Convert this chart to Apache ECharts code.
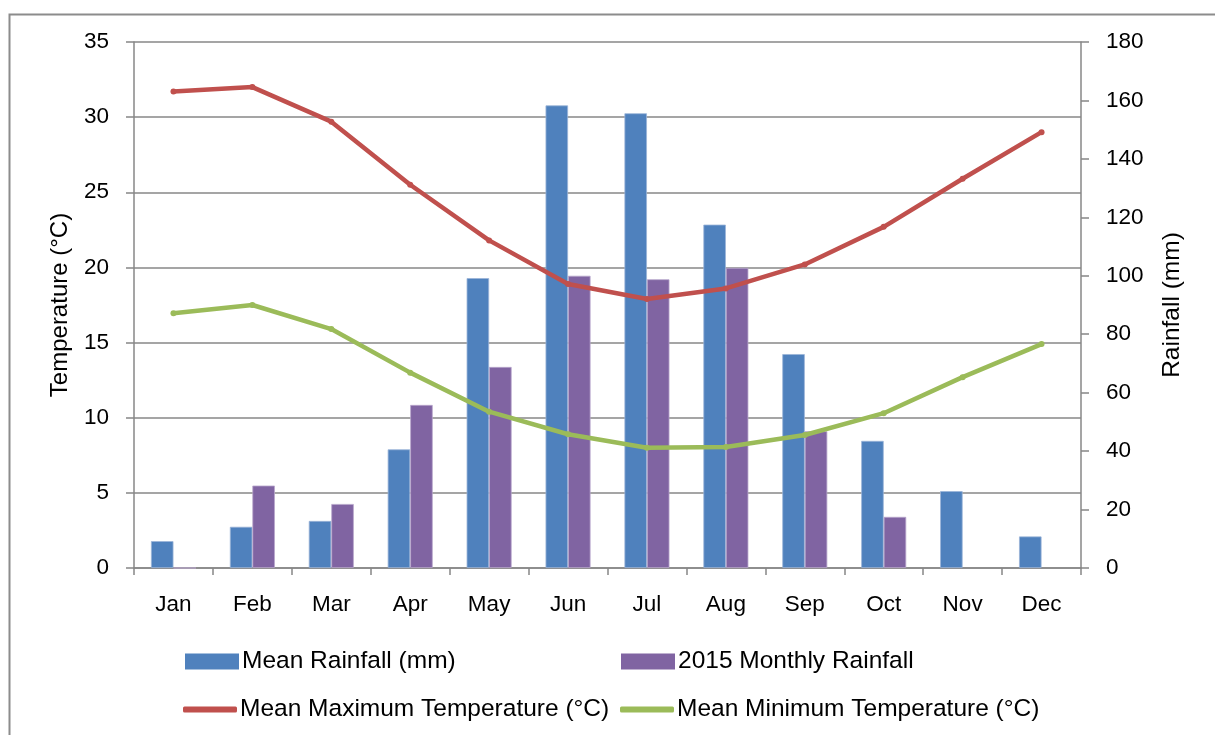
<!DOCTYPE html>
<html>
<head>
<meta charset="utf-8">
<script src="https://cdn.jsdelivr.net/npm/echarts@6/dist/echarts.min.js"></script>
<style>
html,body{margin:0;padding:0;background:#fff;}
#chart{width:1215px;height:735px;}
</style>
</head>
<body>
<div id="chart"></div>
<script>
const months = ['Jan','Feb','Mar','Apr','May','Jun','Jul','Aug','Sep','Oct','Nov','Dec'];
const meanRainfall = [9.2, 14.1, 16.1, 40.6, 99.2, 158.3, 155.6, 117.5, 73.2, 43.5, 26.3, 10.8];
const rainfall2015 = [0, 28.2, 21.9, 55.8, 68.8, 100.0, 98.8, 102.7, 46.8, 17.5, null, null];
const meanMaxTemp = [31.7, 32.0, 29.7, 25.5, 21.8, 18.9, 17.9, 18.6, 20.2, 22.7, 25.9, 29.0];
const meanMinTemp = [16.95, 17.5, 15.9, 13.0, 10.4, 8.9, 8.0, 8.05, 8.85, 10.3, 12.7, 14.9];
const tempTicks = {min: 0, max: 35, interval: 5};
const rainTicks = {min: 0, max: 180, interval: 20};

const FONT = 'Liberation Sans';
const AX = '#878787';
const chart = echarts.init(document.getElementById('chart'), null, {renderer: 'canvas'});

function legend(name, left, top, icon, h) {
  return {
    data: [{name: name, icon: icon}],
    left: left, top: top, orient: 'horizontal',
    itemWidth: 54, itemHeight: h, itemGap: 0,
    padding: 0,
    itemStyle: {borderWidth: 0},
    textStyle: {fontFamily: FONT, fontSize: 24.5, color: '#000', padding: [0,0,0,-2]},
    selectedMode: false
  };
}

const option = {
  animation: false,
  backgroundColor: '#fff',
  textStyle: {fontFamily: FONT},
  graphic: [{
    type: 'rect', left: 7, top: 12, silent: true,
    shape: {width: 1400, height: 900},
    style: {fill: 'none', stroke: '#8c8c8c', lineWidth: 2}
  }],
  grid: {left: 134, right: 134, top: 42, bottom: 167, containLabel: false},
  legend: [
    legend('Mean Rainfall (mm)', 185, 649, 'rect', 16),
    legend('2015 Monthly Rainfall', 621, 649, 'rect', 16),
    legend('Mean Maximum Temperature (°C)', 183, 697, 'roundRect', 6),
    legend('Mean Minimum Temperature (°C)', 620, 697, 'roundRect', 6)
  ],
  xAxis: {
    type: 'category', data: months, boundaryGap: true,
    axisLine: {show: true, lineStyle: {color: AX, width: 1.5}},
    axisTick: {show: true, alignWithLabel: false, length: 7, lineStyle: {color: AX, width: 1.5}},
    axisLabel: {fontFamily: FONT, fontSize: 22.5, color: '#000', margin: 25},
    splitLine: {show: false}
  },
  yAxis: [{
    type: 'value', min: tempTicks.min, max: tempTicks.max, interval: tempTicks.interval,
    position: 'left',
    name: 'Temperature (°C)', nameLocation: 'middle', nameGap: 62, nameRotate: 90,
    nameTextStyle: {fontFamily: FONT, fontSize: 24, color: '#000'},
    axisLine: {show: true, lineStyle: {color: AX, width: 1.5}},
    axisTick: {show: true, length: 8, lineStyle: {color: AX, width: 1.5}},
    axisLabel: {fontFamily: FONT, fontSize: 22.5, color: '#000', margin: 25},
    splitLine: {show: true, lineStyle: {color: AX, width: 1.5}}
  }, {
    type: 'value', min: rainTicks.min, max: rainTicks.max, interval: rainTicks.interval,
    position: 'right',
    name: 'Rainfall (mm)', nameLocation: 'middle', nameGap: 79, nameRotate: 90,
    nameTextStyle: {fontFamily: FONT, fontSize: 24.5, color: '#000'},
    axisLine: {show: true, lineStyle: {color: AX, width: 1.5}},
    axisTick: {show: true, length: 8, lineStyle: {color: AX, width: 1.5}},
    axisLabel: {fontFamily: FONT, fontSize: 22.5, color: '#000', margin: 25},
    splitLine: {show: false}
  }],
  series: [{
    name: 'Mean Rainfall (mm)', type: 'bar', yAxisIndex: 1, data: meanRainfall,
    barWidth: 22.5, barGap: '0%',
    itemStyle: {color: '#4F81BD', borderColor: '#9BB4D8', borderWidth: 0.8}
  }, {
    name: '2015 Monthly Rainfall', type: 'bar', yAxisIndex: 1, data: rainfall2015,
    barWidth: 22.5, barGap: '0%',
    itemStyle: {color: '#8064A2', borderColor: '#B7A6CC', borderWidth: 0.8}
  }, {
    name: 'Mean Maximum Temperature (°C)', type: 'line', yAxisIndex: 0, data: meanMaxTemp,
    symbol: 'circle', symbolSize: 6, showSymbol: true,
    lineStyle: {color: '#C0504D', width: 4.5},
    itemStyle: {color: '#C0504D'}
  }, {
    name: 'Mean Minimum Temperature (°C)', type: 'line', yAxisIndex: 0, data: meanMinTemp,
    symbol: 'circle', symbolSize: 6, showSymbol: true,
    lineStyle: {color: '#9BBB59', width: 4.5},
    itemStyle: {color: '#9BBB59'}
  }]
};
chart.setOption(option);
</script>
</body>
</html>
